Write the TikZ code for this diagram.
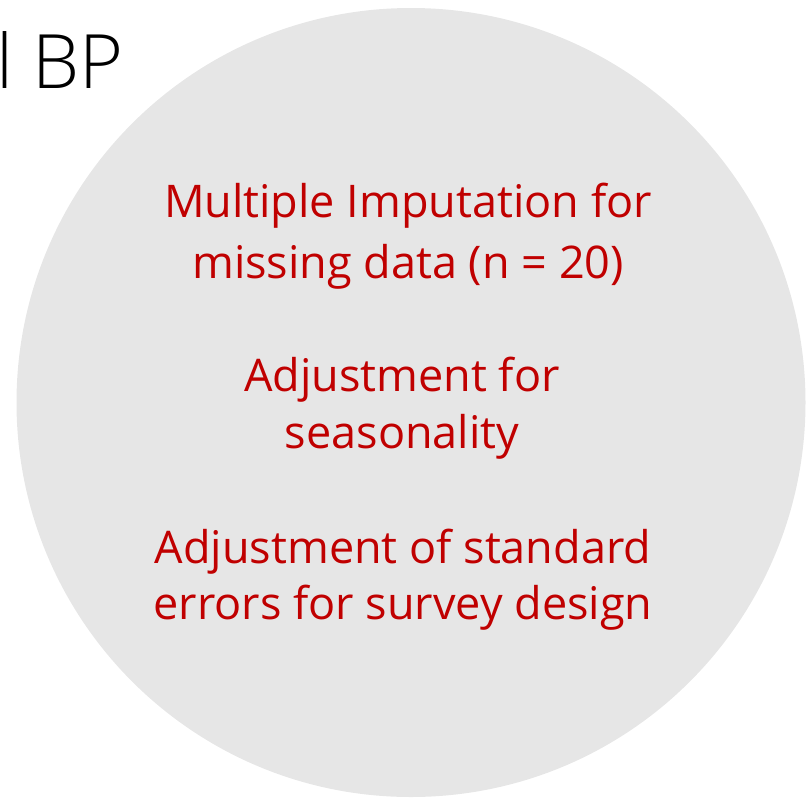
\documentclass[tikz,border=0pt]{standalone}
\usepackage{fontspec}
\setmainfont{Open Sans}
\newfontfamily\lightfont{Open Sans Light}
\definecolor{circgrey}{HTML}{E6E6E6}
\definecolor{txtred}{HTML}{C00000}
\begin{document}
\begin{tikzpicture}[x=1pt,y=-1pt,
  redtext/.style={text=txtred, align=center, inner sep=0pt, anchor=base}]
\useasboundingbox (0,0) rectangle (808,801);
\fill[circgrey] (411,402.5) circle[radius=394.5];
\node[anchor=base west, inner sep=0pt, font=\lightfont\fontsize{75}{75}\selectfont] (title) at (-4,88) {l BP};
\node[redtext, font=\fontsize{45}{61}\selectfont] (m1) at (408,278) {Multiple Imputation for\\missing data (n = 20)};
\node[redtext, font=\fontsize{45}{57}\selectfont] (m2) at (402,448) {Adjustment for\\seasonality};
\node[redtext, font=\fontsize{45}{56}\selectfont] (m3) at (403,619) {Adjustment of standard\\errors for survey design};
\end{tikzpicture}
\end{document}
